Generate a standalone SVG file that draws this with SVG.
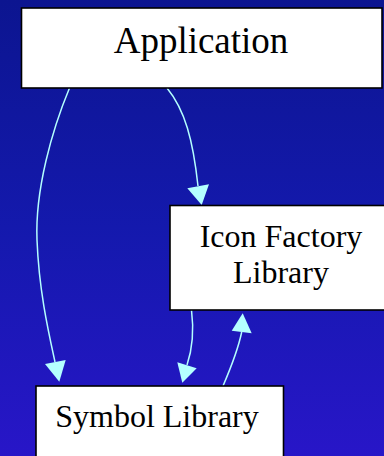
<svg xmlns="http://www.w3.org/2000/svg" width="384" height="456" viewBox="0 0 384 456">
<defs>
<linearGradient id="bg" x1="0" y1="0" x2="0" y2="1">
<stop offset="0" stop-color="#0c1590"/>
<stop offset="0.5" stop-color="#1419ad"/>
<stop offset="1" stop-color="#2816c8"/>
</linearGradient>
<style>
.box{fill:#ffffff;stroke:#000000;stroke-width:1.6}
.lbl{fill:#000000;text-anchor:middle}
.edge{fill:none;stroke:#b4ffff;stroke-width:1.5}
.head{fill:#b4ffff;stroke:none}
</style>
</defs>
<rect x="0" y="0" width="384" height="456" fill="url(#bg)"/>
<g id="connectors">
<path class="edge" d="M69.5,88 C52,130 35,190 37,240 C39,290 48,330 55,362"/>
<polygon class="head" points="59.3,381.7 45,364 65.7,360"/>
<path class="edge" d="M167,88 C185,110 193,140 198,186"/>
<polygon class="head" points="201.7,205 187.3,188.3 209,184.3"/>
<path class="edge" d="M191.5,310 C194,330 192,350 187,365"/>
<polygon class="head" points="182.3,382.7 177.3,362.3 196.7,368.3"/>
<path class="edge" d="M223,386 C232,365 238,350 241.7,332"/>
<polygon class="head" points="242.7,313.3 231.7,330.7 251.7,333.3"/>
</g>
<g id="application">
<rect class="box" x="21.5" y="8" width="360.5" height="80"/>
<text class="lbl" x="201" y="53" font-family="'Liberation Serif', 'Times New Roman', 'DejaVu Serif', serif" font-size="37">Application</text>
</g>
<g id="icon-factory-library">
<rect class="box" x="170" y="205.5" width="220" height="104.5"/>
<text class="lbl" x="281" y="246.5" font-family="'Liberation Serif', 'Times New Roman', 'DejaVu Serif', serif" font-size="32">Icon Factory</text>
<text class="lbl" x="281" y="283" font-family="'Liberation Serif', 'Times New Roman', 'DejaVu Serif', serif" font-size="32">Library</text>
</g>
<g id="symbol-library">
<rect class="box" x="36" y="386" width="247.5" height="80"/>
<text class="lbl" x="157" y="426.5" font-family="'Liberation Serif', 'Times New Roman', 'DejaVu Serif', serif" font-size="32">Symbol Library</text>
</g>
</svg>
